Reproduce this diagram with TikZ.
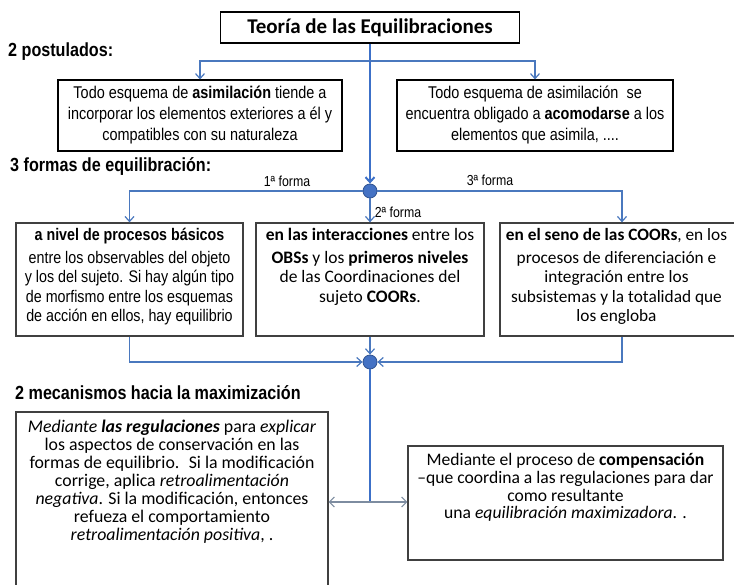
\documentclass[tikz,border=0pt]{standalone}
\usepackage{fontspec}
\setmainfont{Carlito}
\newfontfamily\narrowfont[FakeStretch=0.85]{Liberation Sans}
\usetikzlibrary{positioning,arrows.meta}
\definecolor{linkblue}{RGB}{74,120,190}
\definecolor{trunkblue}{RGB}{60,112,200}
\definecolor{tipgray}{RGB}{125,140,160}
\definecolor{dotblue}{RGB}{68,114,196}
\definecolor{dotedge}{RGB}{47,82,143}
\definecolor{boxgray}{RGB}{64,64,64}

\begin{document}
\begin{tikzpicture}[
    x=1pt, y=-1pt,
    titlebox/.style={
        draw,
        line width=1.1pt,
        minimum width=299pt,
        minimum height=31pt,
        font=\fontsize{21}{24}\selectfont\bfseries
    },
    postbox/.style={
        draw,
        line width=1.1pt,
        minimum height=71pt,
        align=center,
        font=\narrowfont\fontsize{17}{21}\selectfont
    },
    formbox/.style={
        draw=boxgray,
        line width=1.3pt,
        minimum height=113pt
    },
    mechbox/.style={
        draw=boxgray,
        line width=1.3pt
    },
    boxtext/.style={
        anchor=north,
        align=center,
        inner sep=0pt
    },
    heading/.style={
        anchor=west,
        inner sep=0pt,
        font=\narrowfont\bfseries\fontsize{19}{22}\selectfont
    },
    formlabel/.style={
        inner sep=0pt,
        font=\narrowfont\fontsize{14.5}{16}\selectfont
    },
    dot/.style={
        circle,
        fill=dotblue,
        draw=dotedge,
        line width=0.8pt,
        minimum size=14pt,
        inner sep=0pt
    },
    link/.style={
        draw=linkblue,
        line width=1.2pt,
        -{Straight Barb[length=5pt,width=9pt]}
    },
    trunk/.style={
        draw=trunkblue,
        line width=2pt
    },
    side/.style={
        draw=tipgray,
        line width=1.1pt,
        -{Straight Barb[length=5pt,width=10pt]}
    }
]

\useasboundingbox (0,0) rectangle (734,585);
\clip (0,0) rectangle (734,585);

\node[titlebox] (title) at (370,27.5) {Teoría de las Equilibraciones};

\node[heading] (post) at (8,52) {2 postulados:};
\node[postbox, minimum width=284pt] (p1) at (200,115.5) {Todo esquema de \textbf{asimilación} tiende a\\ incorporar los elementos exteriores a él y\\ compatibles con su naturaleza};
\node[postbox, minimum width=276pt] (p2) at (535,115.5) {Todo esquema de asimilación \ se\\ encuentra obligado a \textbf{acomodarse} a los\\ elementos que asimila, ....};

\node[heading] (forms) at (10,167) {3 formas de equilibración:};
\node[dot] (k1) at (370,191) {};
\node[formlabel] (first) at (287,181) {1ª forma};
\node[formlabel] (second) at (398,212) {2ª forma};
\node[formlabel] (third) at (490,180) {3ª forma};

\node[formbox, minimum width=227pt] (f1) at (129.5,279.5) {};
\node[formbox, minimum width=228pt] (f2) at (370,279.5) {};
\node[formbox, minimum width=244pt] (f3) at (622,279.5) {};
\node[boxtext, font=\narrowfont\fontsize{16.8}{19.5}\selectfont] (f1txt) at ([yshift=-6pt]f1.north) {\textbf{a nivel de procesos básicos}\\[3pt] entre los observables del objeto\\ y los del sujeto. Si hay algún tipo\\ de morfismo entre los esquemas\\ de acción en ellos, hay equilibrio};
\node[boxtext, font=\fontsize{17.5}{19.5}\selectfont] (f2txt) at ([yshift=-6pt]f2.north) {\textbf{en las interacciones} entre los\\[3pt] \textbf{OBSs} y los \textbf{primeros niveles}\\ de las Coordinaciones del\\ sujeto \textbf{COORs}.};
\node[boxtext, font=\fontsize{17.3}{19.5}\selectfont] (f3txt) at ([yshift=-6pt, xshift=-5.5pt]f3.north) {\textbf{en el seno de las COORs}, en los\\[3pt] procesos de diferenciación e\\ integración entre los\\ subsistemas y la totalidad que\\ los engloba};

\node[dot] (k2) at (370,362) {};
\node[heading] (mech) at (15,393) {2 mecanismos hacia la maximización};

\node[mechbox, minimum width=312pt, minimum height=178pt] (g1) at (172,501) {};
\node[mechbox, minimum width=315pt, minimum height=114pt] (g2) at (565.5,503) {};
\node[boxtext, font=\fontsize{17.8}{18}\selectfont] (g1txt) at ([yshift=-8pt]g1.north) {\textit{Mediante} \textbf{\textit{las regulaciones}} para \textit{explicar}\\ los aspectos de conservación en las\\ formas de equilibrio. \ Si la modificación\\ corrige, aplica \textit{retroalimentación}\\ \textit{negativa}. Si la modificación, entonces\\ refueza el comportamiento\\ \textit{retroalimentación positiva}, .};
\node[boxtext, font=\fontsize{17.6}{17.6}\selectfont] (g2txt) at ([yshift=-8pt]g2.north) {Mediante el proceso de \textbf{compensación}\\ –que coordina a las regulaciones para dar\\ como resultante\\ una \textit{equilibración maximizadora}. .};

\coordinate (split) at (370,61);
\coordinate (fork) at (370,502);

\draw[trunk] (title) -- (split);
\draw[link] (split) -| (p1);
\draw[link] (split) -| (p2);
\draw[link, draw=trunkblue, line width=2pt] (split) -- (k1);
\draw[link] (k1) -| (f1);
\draw[link] (k1) -- (f2);
\draw[link] (k1) -| (f3);
\draw[link] (f1) |- (k2);
\draw[link] (f2) -- (k2);
\draw[link] (f3) |- (k2);
\draw[trunk] (k2) -- (fork);
\draw[side] (fork) -- (fork -| g1.east);
\draw[side] (fork) -- (fork -| g2.west);

\end{tikzpicture}
\end{document}
